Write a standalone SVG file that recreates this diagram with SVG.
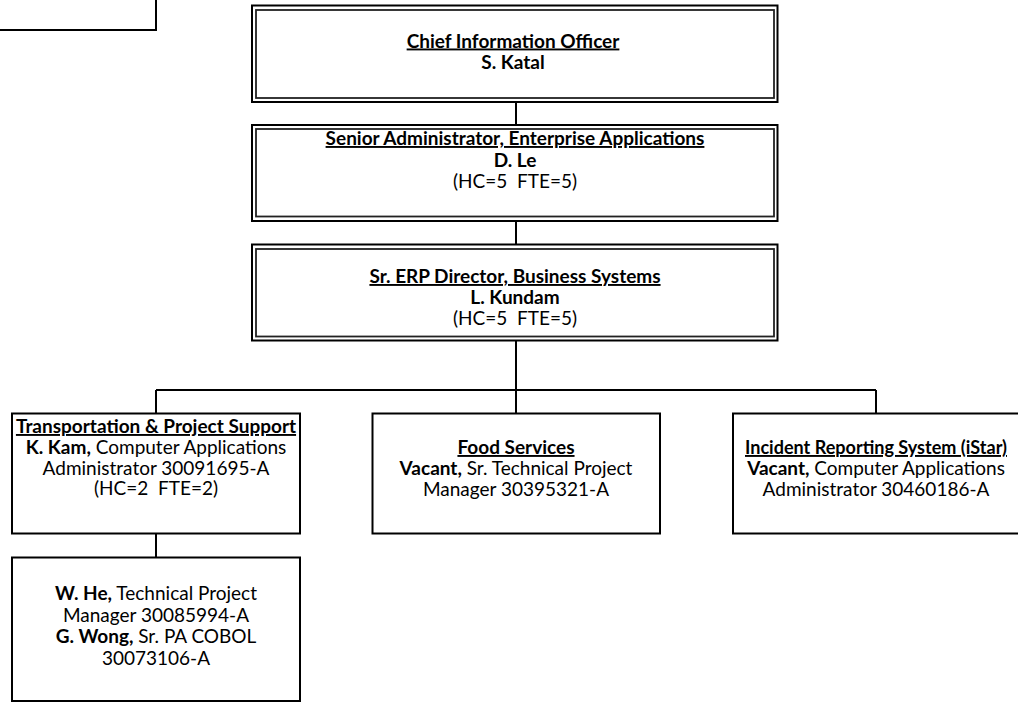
<svg xmlns="http://www.w3.org/2000/svg" width="1018" height="702" viewBox="0 0 1018 702">
<style>
text{font-family:Lato,"Liberation Sans",sans-serif;font-size:19px;fill:#000;text-anchor:middle}
.b{font-weight:bold}
.u{font-weight:bold;text-decoration:underline}
.outer{fill:#fff;stroke:#000;stroke-width:2}
.inner{fill:none;stroke:#222;stroke-width:1.8}
.box{fill:#fff;stroke:#000;stroke-width:2}
.conn{fill:none;stroke:#000;stroke-width:2}
</style>
<g id="connectors">
<path class="conn" d="M516 103V124M516 221V244M516 340V390M156 390H876M156 390V413M516 390V413M876 390V413M156 533V557"/>
</g>
<g id="node-partial">
<path class="conn" d="M0 30H156V0"/>
</g>
<g id="node-cio">
<rect class="outer" x="252" y="5.5" width="525.5" height="96.5"/>
<rect class="inner" x="256" y="10" width="518" height="88"/>
<text x="513" y="47.5" class="u">Chief Information Officer</text>
<text x="513" y="69" class="b">S. Katal</text>
</g>
<g id="node-senior">
<rect class="outer" x="252" y="125" width="525.5" height="96"/>
<rect class="inner" x="256" y="129" width="518" height="87.5"/>
<text x="515" y="145" class="u">Senior Administrator, Enterprise Applications</text>
<text x="515" y="166.5" class="b">D. Le</text>
<text x="515" y="187.5" xml:space="preserve">(HC=5  FTE=5)</text>
</g>
<g id="node-erp">
<rect class="outer" x="252" y="244.5" width="525.5" height="96"/>
<rect class="inner" x="256" y="249" width="518" height="87.5"/>
<text x="515" y="283" class="u">Sr. ERP Director, Business Systems</text>
<text x="515" y="304" class="b">L. Kundam</text>
<text x="515" y="325" xml:space="preserve">(HC=5  FTE=5)</text>
</g>
<g id="node-transport">
<rect class="box" x="12" y="413.5" width="288" height="120"/>
<text x="156" y="433" class="u">Transportation &amp; Project Support</text>
<text x="156" y="454"><tspan class="b">K. Kam,</tspan> Computer Applications</text>
<text x="156" y="474.5">Administrator 30091695-A</text>
<text x="156" y="495" xml:space="preserve">(HC=2  FTE=2)</text>
</g>
<g id="node-food">
<rect class="box" x="372.5" y="413.5" width="287.5" height="120"/>
<text x="516" y="454" class="u">Food Services</text>
<text x="516" y="475"><tspan class="b">Vacant,</tspan> Sr. Technical Project</text>
<text x="516" y="496">Manager 30395321-A</text>
</g>
<g id="node-istar">
<rect class="box" x="733" y="413.5" width="287" height="120"/>
<text x="876" y="454" class="u" textLength="262" lengthAdjust="spacingAndGlyphs">Incident Reporting System (iStar)</text>
<text x="876" y="475"><tspan class="b">Vacant,</tspan> Computer Applications</text>
<text x="876" y="496">Administrator 30460186-A</text>
</g>
<g id="node-staff">
<rect class="box" x="12" y="557.5" width="288" height="143.5"/>
<text x="156" y="600"><tspan class="b">W. He,</tspan> Technical Project</text>
<text x="156" y="621.5">Manager 30085994-A</text>
<text x="156" y="643"><tspan class="b">G. Wong,</tspan> Sr. PA COBOL</text>
<text x="156" y="664.5">30073106-A</text>
</g>
</svg>
